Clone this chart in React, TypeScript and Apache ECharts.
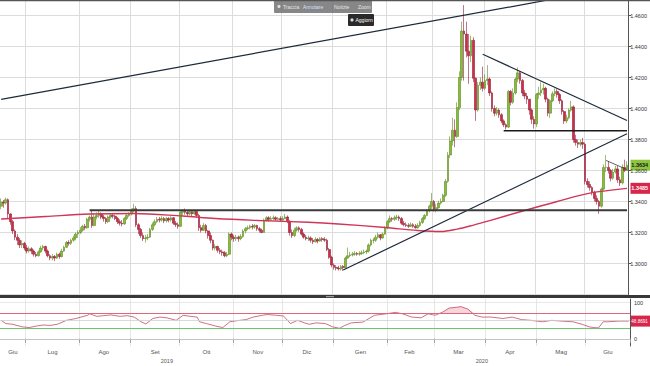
import React, { useEffect, useRef } from "react";
import * as echarts from "echarts";

// ---------- data (prices in pips: value / 10000) ----------
const START_DATE = "2019-06-14";
const FIRST_OPEN = 13370;
const CLOSES = [
  13395, 13390, 13412, 13320, 13270, 13210, 13170, 13150, 13120, 13130,
  13100, 13080, 13095, 13080, 13060, 13050, 13075, 13100, 13110, 13080,
  13050, 13035, 13045, 13035, 13060, 13045, 13080, 13105, 13135, 13130,
  13150, 13165, 13190, 13200, 13215, 13240, 13230, 13285, 13300, 13245,
  13300, 13310, 13320, 13300, 13290, 13270, 13300, 13310, 13305, 13290,
  13270, 13260, 13255, 13290, 13310, 13320, 13340, 13355, 13250, 13220,
  13180, 13160, 13165, 13170, 13220, 13250, 13270, 13285, 13280, 13290,
  13275, 13290, 13280, 13295, 13260, 13250, 13240, 13330, 13340, 13330,
  13320, 13335, 13320, 13335, 13310, 13230, 13215, 13245, 13210, 13180,
  13150, 13100, 13110, 13085, 13075, 13070, 13050, 13060, 13190, 13170,
  13160, 13170, 13160, 13175, 13210, 13225, 13230, 13240, 13235, 13245,
  13225, 13215, 13200, 13280, 13295, 13285, 13290, 13295, 13285, 13290,
  13280, 13290, 13300, 13270, 13200, 13180, 13215, 13230, 13220, 13190,
  13170, 13160, 13165, 13150, 13140, 13155, 13145, 13160, 13155, 13150,
  13090, 13040, 12990, 12975, 12970, 12965, 12980, 12975, 13035, 13050,
  13055, 13060, 13065, 13060, 13065, 13070, 13075, 13080, 13120, 13150,
  13150, 13170, 13185, 13165, 13190, 13230, 13270, 13290, 13285, 13295,
  13300, 13290, 13260, 13250, 13245, 13240, 13250, 13240, 13230, 13245,
  13265, 13290, 13310, 13340, 13370, 13400, 13350, 13360, 13390, 13400,
  13440, 13530, 13700, 13790, 13860, 13820, 14006, 14200, 14500, 14480,
  14370, 14340, 14440, 14195, 13990, 14150, 14170, 14130, 14180, 14190,
  14100, 14000, 13970, 13990, 13960, 13920, 13895, 13880, 14110, 14040,
  14100, 14190, 14230, 14180, 14100, 14080, 14060, 13990, 13930, 13900,
  14090, 14100, 14120, 14130, 14060, 13970, 14050, 14095, 14110, 14090,
  14050, 13980, 13920, 13940, 13990, 14010, 13800, 13780, 13770, 13780,
  13770, 13530, 13510, 13490, 13460, 13420, 13400, 13370, 13480, 13620,
  13620, 13600, 13550, 13590, 13610, 13540, 13520, 13620, 13600, 13634,
];
const HIGHS = [
  13420, 13410, 13425, 13420, 13325, 13280, 13220, 13190, 13165, 13150,
  13140, 13120, 13110, 13105, 13090, 13075, 13085, 13115, 13120, 13115,
  13090, 13060, 13060, 13055, 13070, 13070, 13095, 13115, 13145, 13150,
  13160, 13180, 13200, 13215, 13235, 13250, 13255, 13295, 13310, 13345,
  13320, 13330, 13340, 13330, 13315, 13300, 13310, 13325, 13320, 13315,
  13300, 13285, 13280, 13300, 13320, 13330, 13355, 13385, 13370, 13260,
  13230, 13200, 13185, 13190, 13230, 13265, 13285, 13300, 13300, 13305,
  13300, 13300, 13300, 13305, 13300, 13275, 13265, 13345, 13350, 13355,
  13345, 13345, 13340, 13348, 13340, 13320, 13250, 13260, 13255, 13215,
  13200, 13155, 13125, 13115, 13100, 13090, 13080, 13075, 13200, 13200,
  13185, 13185, 13180, 13190, 13220, 13235, 13245, 13250, 13255, 13255,
  13250, 13235, 13225, 13290, 13305, 13305, 13305, 13310, 13305, 13300,
  13305, 13305, 13320, 13310, 13280, 13220, 13230, 13240, 13240, 13230,
  13200, 13185, 13180, 13175, 13165, 13170, 13165, 13170, 13170, 13170,
  13160, 13100, 13050, 13000, 12990, 12985, 12990, 12990, 13045, 13103,
  13075, 13075, 13080, 13075, 13080, 13085, 13090, 13090, 13130, 13160,
  13165, 13185, 13200, 13190, 13200, 13240, 13280, 13310, 13300, 13310,
  13315, 13310, 13300, 13275, 13265, 13260, 13265, 13260, 13255, 13260,
  13275, 13300, 13320, 13350, 13380, 13455, 13410, 13385, 13405, 13420,
  13450, 13545, 13720, 13820, 13940, 13930, 14040, 14240, 14560, 14667,
  14560, 14480, 14470, 14460, 14200, 14170, 14200, 14270, 14220, 14280,
  14200, 14110, 14020, 14010, 14000, 13970, 13930, 13905, 14120, 14120,
  14130, 14200, 14265, 14240, 14190, 14120, 14100, 14060, 14000, 13950,
  14100, 14140, 14170, 14160, 14140, 14070, 14060, 14110, 14130, 14125,
  14100, 14060, 13990, 13960, 14000, 14050, 14020, 13830, 13800, 13800,
  13810, 13780, 13550, 13530, 13500, 13470, 13440, 13410, 13490, 13640,
  13700, 13660, 13610, 13610, 13630, 13630, 13560, 13640, 13670, 13660,
];
const LOWS = [
  13350, 13360, 13380, 13290, 13250, 13190, 13150, 13120, 13100, 13100,
  13085, 13065, 13070, 13060, 13045, 13040, 13045, 13070, 13085, 13065,
  13040, 13020, 13020, 13016, 13030, 13030, 13040, 13075, 13100, 13115,
  13120, 13140, 13150, 13165, 13190, 13205, 13215, 13225, 13270, 13230,
  13240, 13285, 13295, 13285, 13270, 13255, 13260, 13290, 13290, 13280,
  13255, 13245, 13240, 13250, 13280, 13300, 13310, 13330, 13235, 13190,
  13165, 13145, 13135, 13150, 13165, 13210, 13240, 13260, 13265, 13270,
  13260, 13265, 13265, 13270, 13250, 13235, 13225, 13235, 13310, 13315,
  13305, 13310, 13305, 13315, 13300, 13210, 13200, 13210, 13195, 13160,
  13130, 13085, 13085, 13070, 13060, 13050, 13040, 13042, 13055, 13150,
  13140, 13145, 13140, 13150, 13165, 13195, 13215, 13220, 13220, 13225,
  13210, 13200, 13195, 13200, 13270, 13270, 13275, 13280, 13275, 13275,
  13270, 13275, 13285, 13260, 13180, 13165, 13170, 13205, 13205, 13180,
  13160, 13150, 13145, 13135, 13125, 13135, 13130, 13140, 13140, 13140,
  13080, 13030, 12975, 12960, 12955, 12955, 12955, 12952, 12970, 13030,
  13040, 13045, 13050, 13050, 13050, 13055, 13060, 13060, 13070, 13110,
  13130, 13140, 13160, 13150, 13160, 13185, 13220, 13260, 13270, 13275,
  13280, 13275, 13250, 13240, 13235, 13230, 13235, 13230, 13225, 13225,
  13235, 13255, 13280, 13305, 13330, 13350, 13335, 13330, 13355, 13380,
  13395, 13430, 13520, 13680, 13760, 13750, 13810, 13990, 14180, 14180,
  14330, 14160, 14300, 14170, 13920, 13980, 14120, 14110, 14120, 14150,
  14080, 13980, 13950, 13955, 13940, 13905, 13880, 13865, 13875, 14020,
  14030, 14090, 14170, 14160, 14080, 14060, 14030, 13960, 13900, 13870,
  13880, 14060, 14080, 14090, 14040, 13950, 13940, 14040, 14080, 14070,
  14030, 13960, 13900, 13905, 13930, 13980, 13780, 13760, 13745, 13755,
  13740, 13510, 13490, 13470, 13440, 13400, 13380, 13320, 13360, 13470,
  13590, 13580, 13530, 13540, 13580, 13520, 13500, 13510, 13590, 13600,
];

// moving average read at sample points [candle index, value]
const MA_POINTS: [number, number][] = [
  [0, 1.3287], [19, 1.3303], [38, 1.3319], [57, 1.3323], [78, 1.3306],
  [92, 1.329], [111, 1.3277], [132, 1.3266], [145, 1.3255], [165, 1.3232],
  [179, 1.3213], [189, 1.3206], [196, 1.3222], [203, 1.3248], [210, 1.3277],
  [225, 1.3342], [239, 1.34], [253, 1.3454], [269, 1.3485],
];

// RSI read at sample points [candle index, value]
const RSI_POINTS: [number, number][] = [
  [0, 51], [2, 42], [5, 40], [9, 33], [12, 31], [15, 35], [18, 38], [21, 37],
  [24, 40], [28, 51], [32, 56], [37, 65], [38, 69], [41, 62], [44, 64], [47, 66],
  [51, 62], [54, 64], [57, 60], [60, 47], [62, 41], [65, 56], [68, 60], [71, 58],
  [75, 51], [78, 65], [81, 62], [84, 60], [85, 47], [88, 42], [92, 35], [95, 31],
  [98, 47], [101, 50], [105, 53], [108, 60], [112, 65], [114, 67], [118, 65],
  [121, 63], [124, 42], [127, 51], [130, 44], [132, 40], [135, 44], [139, 42],
  [142, 33], [145, 29], [147, 36], [150, 44], [155, 46], [160, 65], [165, 69],
  [169, 73], [172, 69], [176, 60], [180, 58], [183, 69], [186, 65], [189, 73],
  [192, 85], [195, 87], [197, 89], [200, 82], [203, 65], [206, 60], [210, 60],
  [215, 56], [219, 60], [223, 53], [227, 51], [232, 47], [236, 51], [240, 49],
  [245, 47], [249, 40], [252, 33], [254, 31], [256, 30], [258, 47], [260, 47],
  [265, 49], [269, 48.8691],
];
const RSI_LEVELS = { over: 70, mid: 50, under: 30 };

// hand-drawn trend lines, in data space [candle index, price]
const TREND_LINES: { pts: [number, number][]; color: string; width: number }[] = [
  { pts: [[0, 1.4059], [234, 1.4697]], color: "#1d2a3c", width: 1.3 },
  { pts: [[207, 1.435], [269, 1.3923]], color: "#1d2a3c", width: 1.2 },
  { pts: [[216, 1.3856], [269, 1.3856]], color: "#1a1a1a", width: 1.4 },
  { pts: [[147, 1.2958], [269, 1.3837]], color: "#1d2a3c", width: 1.2 },
  { pts: [[38, 1.3344], [269, 1.3344]], color: "#3a3a3a", width: 2 },
  { pts: [[260, 1.3665], [269, 1.3606]], color: "#3a3a3a", width: 0.8 },
];

const MONTHS_IT = ["Gen", "Feb", "Mar", "Apr", "Mag", "Giu", "Lug", "Ago", "Set", "Ott", "Nov", "Dic"];
const PRICE_MIN = 1.28;
const PRICE_MAX = 1.47;
const PRICE_STEP = 0.02;

// ---------- helpers ----------
function buildDates(start: string, n: number): string[] {
  const out: string[] = [];
  const d = new Date(start + "T00:00:00Z");
  while (out.length < n) {
    const wd = d.getUTCDay();
    if (wd !== 0 && wd !== 6) out.push(d.toISOString().slice(0, 10));
    d.setUTCDate(d.getUTCDate() + 1);
  }
  return out;
}

function groupMids(dates: string[], keyLen: number): { starts: Set<number>; mids: Set<number> } {
  const starts = new Set<number>();
  const mids = new Set<number>();
  let a = 0;
  for (let i = 1; i <= dates.length; i++) {
    if (i === dates.length || dates[i].slice(0, keyLen) !== dates[i - 1].slice(0, keyLen)) {
      mids.add(Math.floor((a + i - 1) / 2));
      if (i < dates.length) starts.add(i);
      a = i;
    }
  }
  return { starts, mids };
}

export default function App() {
  const ref = useRef<HTMLDivElement>(null);

  useEffect(() => {
    if (!ref.current) return;
    const chart = echarts.init(ref.current, undefined, { renderer: "svg" });

    const n = CLOSES.length;
    const dates = buildDates(START_DATE, n);
    const months = groupMids(dates, 7);
    const years = groupMids(dates, 4);

    const candles = CLOSES.map((c, i) => {
      const o = i === 0 ? FIRST_OPEN : CLOSES[i - 1];
      const h = Math.max(HIGHS[i], o, c);
      const l = Math.min(LOWS[i], o, c);
      return [o / 10000, c / 10000, l / 10000, h / 10000];
    });
    const rsiFill = RSI_POINTS.map(([i, v]) => [i, Math.max(v, RSI_LEVELS.over)]);

    const gridLineColor = "#dcdcdc";
    const monthStart = (idx: number) => months.starts.has(idx);

    const option: any = {
      animation: false,
      backgroundColor: "#ffffff",
      textStyle: { fontFamily: "Liberation Sans, Arial, sans-serif" },
      grid: [
        { left: 0, right: 20, top: 0, height: 294.5 },
        { left: 0, right: 20, top: 299, height: 47 },
      ],
      xAxis: [
        {
          type: "category", gridIndex: 0, data: dates, boundaryGap: true,
          axisLine: { show: false }, axisTick: { show: false }, axisLabel: { show: false },
          splitLine: { show: true, interval: monthStart, lineStyle: { color: gridLineColor, width: 1 } },
        },
        {
          type: "category", gridIndex: 1, data: dates, boundaryGap: true,
          axisLine: { show: true, lineStyle: { color: "#9a9a9a", width: 1 } },
          axisTick: { show: true, interval: monthStart, length: 4, lineStyle: { color: "#9a9a9a" } },
          axisLabel: {
            interval: (idx: number) => months.mids.has(idx),
            formatter: (v: string) => MONTHS_IT[parseInt(v.slice(5, 7), 10) - 1],
            fontSize: 6, color: "#555", margin: 3,
          },
          splitLine: { show: true, interval: monthStart, lineStyle: { color: "#e6e6e6", width: 1 } },
        },
        {
          type: "category", gridIndex: 1, data: dates, boundaryGap: true, position: "bottom", offset: 9,
          axisLine: { show: false }, axisTick: { show: false },
          axisLabel: {
            interval: (idx: number) => years.mids.has(idx),
            formatter: (v: string) => v.slice(0, 4),
            fontSize: 5.5, color: "#555", margin: 3,
          },
        },
      ],
      yAxis: [
        {
          type: "value", gridIndex: 0, position: "right", min: PRICE_MIN, max: PRICE_MAX, interval: PRICE_STEP,
          axisLine: { show: true, lineStyle: { color: "#555", width: 1 } },
          axisTick: { show: true, length: 3, lineStyle: { color: "#555" } },
          axisLabel: {
            showMinLabel: false, showMaxLabel: false, fontSize: 5.5, color: "#333", margin: 2,
            formatter: (v: number) => v.toFixed(4),
          },
          splitLine: { show: true, lineStyle: { color: gridLineColor, width: 1 } },
        },
        {
          type: "value", gridIndex: 1, position: "right", min: -20, max: 110, interval: 20,
          axisLine: { show: true, lineStyle: { color: "#555", width: 1 } },
          axisTick: { show: false },
          axisLabel: {
            fontSize: 5.5, color: "#333", margin: 4,
            formatter: (v: number) => (Math.abs(v) < 1e-9 || Math.abs(v - 100) < 1e-9 ? String(Math.round(v)) : ""),
          },
          splitLine: { show: false },
        },
      ],
      series: [
        {
          type: "candlestick", name: "Prezzo", xAxisIndex: 0, yAxisIndex: 0, data: candles,
          barWidth: "94%",
          itemStyle: {
            color: "#86bd38", color0: "#d42b4c",
            borderColor: "#5e8a22", borderColor0: "#8e1c30", borderWidth: 0.6,
          },
        },
        {
          type: "line", name: "MA", xAxisIndex: 0, yAxisIndex: 0, data: MA_POINTS,
          smooth: 0.35, showSymbol: false, symbol: "none",
          lineStyle: { color: "#cf3657", width: 1.4 }, z: 3,
        },
        ...TREND_LINES.map((t, k) => ({
          type: "line", name: "trend" + k, xAxisIndex: 0, yAxisIndex: 0, data: t.pts,
          showSymbol: false, symbol: "none", clip: true,
          lineStyle: { color: t.color, width: t.width }, z: 4,
        })),
        {
          type: "line", name: "RSIfill", xAxisIndex: 1, yAxisIndex: 1, data: rsiFill,
          showSymbol: false, symbol: "none", lineStyle: { width: 0, opacity: 0 },
          areaStyle: { origin: RSI_LEVELS.over, color: "rgba(232,120,140,0.45)" }, z: 1,
        },
        {
          type: "line", name: "RSI", xAxisIndex: 1, yAxisIndex: 1, data: RSI_POINTS,
          showSymbol: false, symbol: "none", lineStyle: { color: "#c24d66", width: 0.8 }, z: 3,
          markLine: {
            silent: true, symbol: "none", label: { show: false },
            data: [
              { yAxis: RSI_LEVELS.over, lineStyle: { color: "#e0667a", width: 1, type: "solid" } },
              { yAxis: RSI_LEVELS.mid, lineStyle: { color: "#cfcfcf", width: 0.8, type: "solid" } },
              { yAxis: RSI_LEVELS.under, lineStyle: { color: "#6cc46c", width: 1, type: "solid" } },
              { yAxis: 100, lineStyle: { color: "#e2e2e2", width: 0.8, type: "solid" } },
              { yAxis: 0, lineStyle: { color: "#cfcfcf", width: 0.8, type: "solid" } },
            ],
          },
        },
      ],
    };
    chart.setOption(option);

    const lastIdx = n - 1;
    const lastClose = CLOSES[lastIdx] / 10000;
    const lastMa = MA_POINTS[MA_POINTS.length - 1][1];
    const lastRsi = RSI_POINTS[RSI_POINTS.length - 1][1];
    const yClose = chart.convertToPixel({ xAxisIndex: 0, yAxisIndex: 0 }, [lastIdx, lastClose])[1];
    const yMa = chart.convertToPixel({ xAxisIndex: 0, yAxisIndex: 0 }, [lastIdx, lastMa])[1];
    const yRsi = chart.convertToPixel({ xAxisIndex: 1, yAxisIndex: 1 }, [lastIdx, lastRsi])[1];

    const tag = (y: number, text: string, fill: string, textFill: string, fs: number, bold: boolean) => ({
      type: "group", z: 100,
      children: [
        { type: "rect", shape: { x: 630.5, y: y - 5.5, width: 19.5, height: 11 }, style: { fill } },
        {
          type: "text", x: 631.3, y,
          style: {
            text, fontSize: fs, fontWeight: bold ? "bold" : "normal", fill: textFill,
            verticalAlign: "middle", align: "left",
          },
        },
      ],
    });

    chart.setOption({
      graphic: [
        { type: "rect", shape: { x: 0, y: 0, width: 650, height: 1.2 }, style: { fill: "#555" }, z: 90 },
        { type: "rect", shape: { x: 0, y: 295, width: 650, height: 3 }, style: { fill: "#383838" }, z: 90 },
        { type: "rect", shape: { x: 326, y: 296, width: 8, height: 1.2 }, style: { fill: "#9a9a9a" }, z: 91 },
        tag(yClose, lastClose.toFixed(4), "#8cc63f", "#1a1a1a", 5.5, true),
        tag(yMa, lastMa.toFixed(4), "#d8264b", "#ffffff", 5.5, true),
        tag(yRsi, lastRsi.toFixed(4), "#d8264b", "#ffffff", 4.6, false),
        {
          type: "group", z: 95,
          children: [
            { type: "rect", shape: { x: 274, y: 0, width: 98, height: 13, r: 1 }, style: { fill: "rgba(105,105,105,0.8)" } },
            { type: "circle", shape: { cx: 279, cy: 6.5, r: 1.6 }, style: { fill: "#dcdcdc" } },
            { type: "text", x: 283, y: 6.5, style: { text: "Traccia", fontSize: 5, fill: "#e4e4e4", verticalAlign: "middle" } },
            { type: "text", x: 303, y: 6.5, style: { text: "Annotare", fontSize: 5, fill: "#cfe0ff", verticalAlign: "middle" } },
            { type: "text", x: 334, y: 6.5, style: { text: "Notizie", fontSize: 5, fill: "#e4e4e4", verticalAlign: "middle" } },
            { type: "text", x: 358, y: 6.5, style: { text: "Zoom", fontSize: 5, fill: "#e4e4e4", verticalAlign: "middle" } },
            { type: "rect", shape: { x: 348, y: 14, width: 26, height: 12, r: 1 }, style: { fill: "#2a2a2a" } },
            { type: "circle", shape: { cx: 352, cy: 20, r: 1.6 }, style: { fill: "#dddddd" } },
            { type: "text", x: 355.5, y: 20, style: { text: "Aggiorn", fontSize: 5, fill: "#ffffff", verticalAlign: "middle" } },
          ],
        },
      ],
    });

    return () => chart.dispose();
  }, []);

  return (
    <div
      ref={ref}
      style={{ position: "fixed", left: 0, top: 0, width: 650, height: 366, background: "#fff" }}
    />
  );
}
